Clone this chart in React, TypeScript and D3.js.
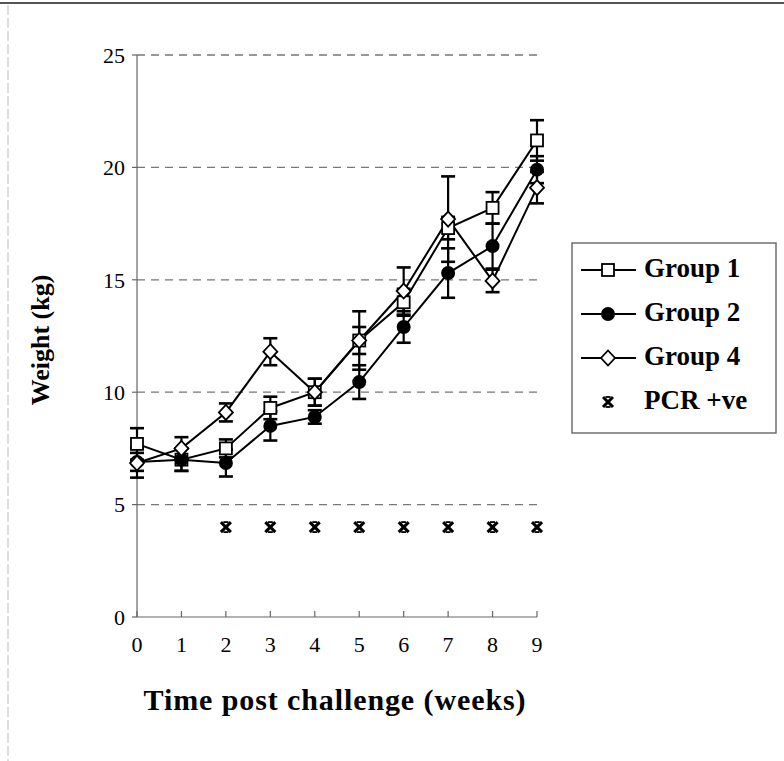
import React from "react";
import * as d3 from "d3";

const weeks = [0, 1, 2, 3, 4, 5, 6, 7, 8, 9];
const yTicks = [0, 5, 10, 15, 20, 25];
const group1 = [7.7, 7.0, 7.5, 9.3, 10.0, 12.3, 14.0, 17.3, 18.2, 21.2];
const group1Err = [0.7, 0.5, 0.4, 0.5, 0.6, 0.6, 0.6, 0.5, 0.7, 0.9];
const group2 = [6.9, 7.0, 6.85, 8.5, 8.9, 10.45, 12.9, 15.3, 16.5, 19.9];
const group2Err = [0.4, 0.5, 0.6, 0.65, 0.3, 0.75, 0.7, 1.1, 1.0, 0.6];
const group4 = [6.85, 7.5, 9.1, 11.8, 10.0, 12.3, 14.5, 17.7, 14.95, 19.1];
const group4Err = [0.65, 0.5, 0.4, 0.6, 0.6, 1.3, 1.05, 1.9, 0.5, 0.7];
const pcrWeeks = [2, 3, 4, 5, 6, 7, 8, 9];
const pcrLevel = 4;
const legendLabels = ["Group 1", "Group 2", "Group 4", "PCR +ve"];

const FONT = "'Liberation Serif', 'Times New Roman', serif";

function Marker({ kind, x, y }: { kind: string; x: number; y: number }) {
  if (kind === "square")
    return <rect x={x - 6} y={y - 6} width={12} height={12} fill="#fff" stroke="#000" strokeWidth={1.8} />;
  if (kind === "circle") return <circle cx={x} cy={y} r={7} fill="#000" />;
  if (kind === "diamond")
    return (
      <path
        d={`M${x},${y - 7.5}L${x + 7},${y}L${x},${y + 7.5}L${x - 7},${y}Z`}
        fill="#fff"
        stroke="#000"
        strokeWidth={1.8}
      />
    );
  // asterisk
  return (
    <g stroke="#000" strokeWidth={3} strokeLinecap="butt">
      <line x1={x - 5} y1={y - 5} x2={x + 5} y2={y + 5} />
      <line x1={x - 5} y1={y + 5} x2={x + 5} y2={y - 5} />
      <line x1={x - 2.5} y1={y - 5} x2={x + 2.5} y2={y - 5} strokeWidth={1.8} />
      <line x1={x - 2.5} y1={y + 5} x2={x + 2.5} y2={y + 5} strokeWidth={1.8} />
    </g>
  );
}

export default function App() {
  const W = 784;
  const H = 761;
  const x = d3.scaleLinear().domain([0, 9]).range([137, 537]);
  const y = d3.scaleLinear().domain([0, 25]).range([617, 55]);
  const line = d3
    .line<number>()
    .x((_, i) => x(weeks[i]))
    .y((d) => y(d));

  const series = [
    { vals: group1, err: group1Err, kind: "square" },
    { vals: group2, err: group2Err, kind: "circle" },
    { vals: group4, err: group4Err, kind: "diamond" },
  ];

  const legendX = 572;
  const legendY = 243;
  const legendRowY = [268, 312, 356, 400];

  return (
    <svg width={W} height={H} style={{ position: "absolute", left: 0, top: 0, background: "#fff" }}>
      <rect x={0} y={0} width={W} height={H} fill="#fff" />
      {/* frame */}
      <line x1={0} y1={3} x2={W} y2={3} stroke="#555" strokeWidth={2} />
      <line x1={8} y1={5} x2={8} y2={H} stroke="#bbb" strokeWidth={1} strokeDasharray="10,3" />

      {/* gridlines */}
      {yTicks.filter((t) => t > 0).map((t) => (
        <line key={t} x1={x(0)} x2={x(9)} y1={y(t)} y2={y(t)} stroke="#777" strokeWidth={1.3} strokeDasharray="8,6" />
      ))}
      {/* axes */}
      <line x1={x(0)} x2={x(0)} y1={y(25)} y2={y(0)} stroke="#666" strokeWidth={1.2} />
      <line x1={x(0)} x2={x(9)} y1={y(0)} y2={y(0)} stroke="#666" strokeWidth={1.2} />
      {yTicks.map((t) => (
        <g key={t}>
          <line x1={x(0) - 5} x2={x(0)} y1={y(t)} y2={y(t)} stroke="#666" strokeWidth={1.2} />
          <text x={x(0) - 12} y={y(t)} dy="0.35em" textAnchor="end" fontFamily={FONT} fontSize={22}>
            {t}
          </text>
        </g>
      ))}
      {weeks.map((w) => (
        <g key={w}>
          <line x1={x(w)} x2={x(w)} y1={y(0)} y2={y(0) - 6} stroke="#666" strokeWidth={1.2} />
          <text x={x(w)} y={y(0) + 35} textAnchor="middle" fontFamily={FONT} fontSize={22}>
            {w}
          </text>
        </g>
      ))}
      <text
        transform={`translate(49,${340}) rotate(-90)`}
        textAnchor="middle"
        fontFamily={FONT}
        fontWeight="bold"
        fontSize={26}
      >
        Weight (kg)
      </text>
      <text
        x={335}
        y={710}
        textAnchor="middle"
        fontFamily={FONT}
        fontWeight="bold"
        fontSize={30}
        letterSpacing={0.9}
      >
        Time post challenge (weeks)
      </text>

      {/* error bars */}
      {series.map((s, si) =>
        s.vals.map((v, i) => (
          <g key={`e${si}-${i}`} stroke="#000" strokeWidth={2.2}>
            <line x1={x(weeks[i])} x2={x(weeks[i])} y1={y(v + s.err[i])} y2={y(v - s.err[i])} />
            <line x1={x(weeks[i]) - 7} x2={x(weeks[i]) + 7} y1={y(v + s.err[i])} y2={y(v + s.err[i])} strokeWidth={2.6} />
            <line x1={x(weeks[i]) - 7} x2={x(weeks[i]) + 7} y1={y(v - s.err[i])} y2={y(v - s.err[i])} strokeWidth={2.6} />
          </g>
        ))
      )}
      {/* lines */}
      {series.map((s, si) => (
        <path key={`l${si}`} d={line(s.vals) || ""} fill="none" stroke="#000" strokeWidth={2} />
      ))}
      {/* markers */}
      {series.map((s, si) =>
        s.vals.map((v, i) => <Marker key={`m${si}-${i}`} kind={s.kind} x={x(weeks[i])} y={y(v)} />)
      )}
      {pcrWeeks.map((w) => (
        <Marker key={`p${w}`} kind="asterisk" x={x(w)} y={y(pcrLevel)} />
      ))}

      {/* legend */}
      <rect x={legendX} y={legendY} width={204} height={190} fill="#fff" stroke="#666" strokeWidth={1.4} />
      {legendLabels.map((lab, i) => {
        const ly = legendRowY[i];
        const kind = ["square", "circle", "diamond", "asterisk"][i];
        return (
          <g key={lab}>
            {i < 3 && <line x1={581} x2={636} y1={ly + 2} y2={ly + 2} stroke="#000" strokeWidth={2} />}
            <Marker kind={kind} x={608} y={ly + 2} />
            <text x={644} y={ly} dy="0.35em" fontFamily={FONT} fontWeight="bold" fontSize={27}>
              {lab}
            </text>
          </g>
        );
      })}
    </svg>
  );
}
